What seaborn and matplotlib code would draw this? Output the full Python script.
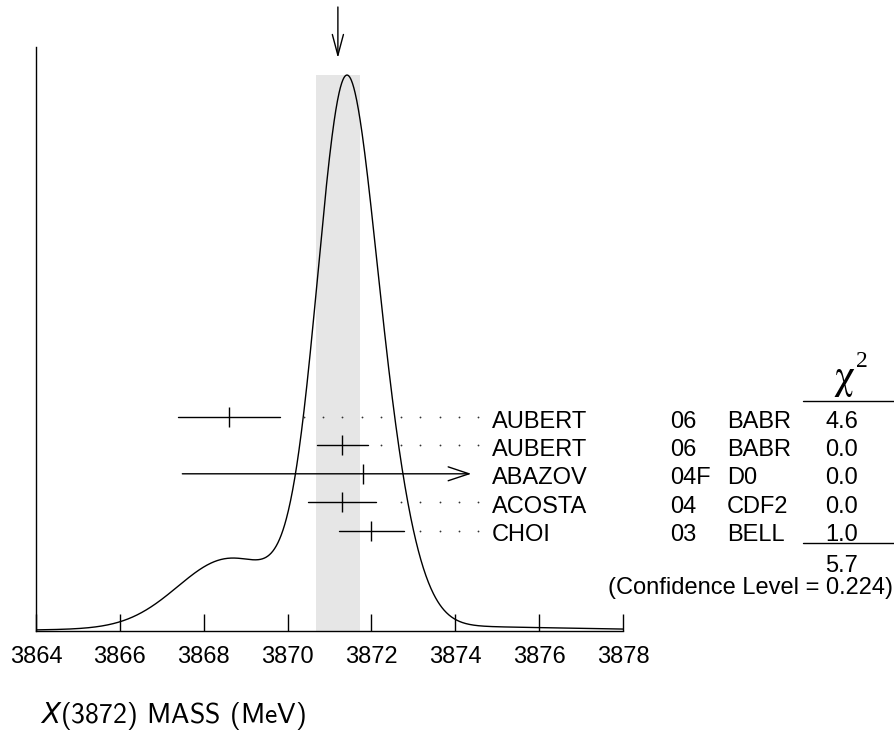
import numpy as np
import pandas as pd
import matplotlib.pyplot as plt
import matplotlib.transforms as mtransforms
from matplotlib.lines import Line2D
import seaborn as sns

# measurements (PDG style ideogram), errors = stat+syst in quadrature
names = ["AUBERT", "AUBERT", "ABAZOV", "ACOSTA", "CHOI"]
years = ["06", "06", "04F", "04", "03"]
expts = ["BABR", "BABR", "D0", "CDF2", "BELL"]
mass = [3868.6, 3871.3, 3871.8, 3871.3, 3872.0]
err = [1.22, 0.61, 4.31, 0.81, 0.78]
chi2 = ["4.6", "0.0", "0.0", "0.0", "1.0"]
chi2_total = "5.7"
conf_level = "0.224"
avg_mass = 3871.2
avg_err = 0.53
xticks = [3864, 3866, 3868, 3870, 3872, 3874, 3876, 3878]

sns.set_style("white")
plt.rcParams["font.family"] = ["Liberation Sans", "DejaVu Sans"]
plt.rcParams["text.color"] = "black"
plt.rcParams["xtick.color"] = "black"

W, H = 895, 734
fig = plt.figure(figsize=(W / 100, H / 100), dpi=100)
ax = fig.add_axes([36 / W, (H - 631) / H, 587 / W, 584 / H])


def ay(py):
    # pixel row -> axes fraction
    return (631 - py) / 584


def fx(px):
    return px / W


def fy(py):
    return 1 - py / H


# ideogram: gaussians with area ~ 1/sigma
grid = np.linspace(xticks[0], xticks[-1], 1401)
ideo = np.zeros_like(grid)
for m, s in zip(mass, err):
    ideo += np.exp(-0.5 * ((grid - m) / s) ** 2) / s ** 2
top = ideo.max() / 0.952
curve = pd.DataFrame({"mass": grid, "ideogram": ideo})

ax.axvspan(avg_mass - avg_err, avg_mass + avg_err, ymin=0, ymax=ideo.max() / top,
           color="#e6e6e6", lw=0, zorder=0)
sns.lineplot(data=curve, x="mass", y="ideogram", color="black", lw=1.0,
             estimator=None, ax=ax)

ax.set_xlim(xticks[0], xticks[-1])
ax.set_ylim(0, top)
ax.set_xlabel("")
ax.set_ylabel("")
ax.set_yticks([])
ax.set_xticks(xticks)
ax.set_xticklabels([str(t) for t in xticks])
ax.tick_params(axis="x", direction="in", length=12.2, width=1.0, pad=11,
               labelsize=17, color="black", labelcolor="black", bottom=True)
sns.despine(ax=ax)
for sp in ["left", "bottom"]:
    ax.spines[sp].set_color("black")
    ax.spines[sp].set_linewidth(1.0)

# average arrow
ax.annotate("", xy=(avg_mass, ay(58)), xytext=(avg_mass, ay(7)),
            xycoords=mtransforms.blended_transform_factory(ax.transData, ax.transAxes),
            arrowprops=dict(arrowstyle="->,head_length=1.5,head_width=0.4",
                            lw=1.0, color="black", shrinkA=0, shrinkB=0),
            annotation_clip=False)

trans_bar = mtransforms.blended_transform_factory(ax.transData, ax.transAxes)
trans_txt = mtransforms.blended_transform_factory(fig.transFigure, ax.transAxes)
limit = 3874.38      # bars are cut here, before the names
dot_end = 3874.55
dot_step = 0.463

for i in range(len(names)):
    py = 417 + 28.4 * i
    y = ay(py)
    lo, hi = mass[i] - err[i], mass[i] + err[i]
    if hi > limit:
        ax.annotate("", xy=(limit, y), xytext=(lo, y), xycoords=trans_bar,
                    arrowprops=dict(arrowstyle="->,head_length=1.5,head_width=0.5",
                                    lw=1.0, color="black", shrinkA=0, shrinkB=0),
                    annotation_clip=False)
    else:
        ax.plot([lo, hi], [y, y], color="black", lw=1.0, transform=trans_bar,
                clip_on=False)
        dots = dot_end - dot_step * np.arange(30)
        dots = dots[dots > hi + 0.25]
        ax.plot(dots, [y] * len(dots), ls="none", marker="o", ms=1.3,
                color="#333333", mew=0, transform=trans_bar, clip_on=False)
    ax.plot([mass[i]], [y], marker="|", ms=14.4, mew=1.0, color="black",
            transform=trans_bar, clip_on=False)

    yb = ay(py + 10.5)
    ax.text(fx(492), yb, names[i], transform=trans_txt, fontsize=17, va="baseline")
    ax.text(fx(670), yb, years[i], transform=trans_txt, fontsize=17, va="baseline")
    ax.text(fx(727), yb, expts[i], transform=trans_txt, fontsize=17, va="baseline")
    ax.text(fx(842), yb, chi2[i], transform=trans_txt, fontsize=17, va="baseline",
            ha="center")

# chi2 header and totals
fig.text(fx(844), fy(388), "\u03c7", family=["STIXGeneral", "DejaVu Serif"],
         fontsize=30, ha="center", va="baseline")
fig.text(fx(862), fy(367), "2", family=["Liberation Serif", "DejaVu Serif"],
         fontsize=17, ha="center", va="baseline")
fig.add_artist(Line2D([fx(803), 1.0], [fy(400.7)] * 2, color="black", lw=1.0,
                      transform=fig.transFigure))
fig.add_artist(Line2D([fx(803), 1.0], [fy(543)] * 2, color="black", lw=1.0,
                      transform=fig.transFigure))
fig.text(fx(842), fy(572.5), chi2_total, fontsize=17, ha="center", va="baseline")
fig.text(fx(893), fy(594), "(Confidence Level = " + conf_level + ")", fontsize=17,
         ha="right", va="baseline")

# axis title
fig.text(fx(40), fy(723), r"$X$(3872) MASS (MeV)", family=["cmss10", "DejaVu Sans"],
         fontsize=20, ha="left", va="baseline")

fig.savefig("out.png", dpi=100)
